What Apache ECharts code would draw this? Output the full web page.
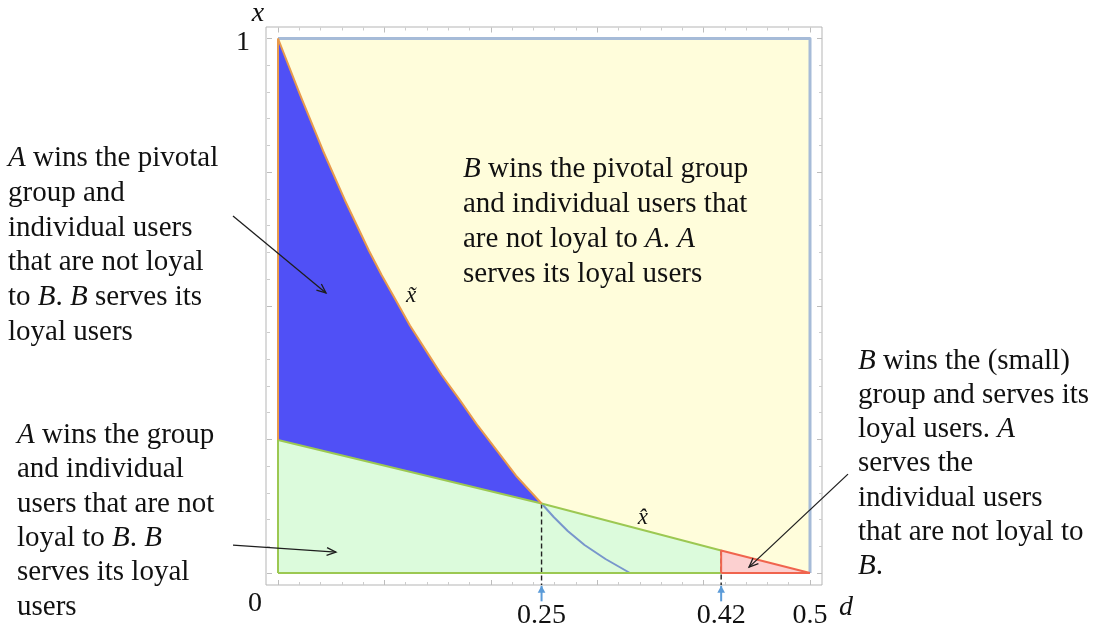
<!DOCTYPE html>
<html lang="en">
<head>
<meta charset="UTF-8" />
<meta name="viewport" content="width=device-width,initial-scale=1" />
<title>Pivotal group · regions in (d, x)</title>
<script src="https://cdn.jsdelivr.net/npm/echarts@6/dist/echarts.min.js"></script>
<style>
  html, body { margin:0; padding:0; width:100%; height:100%; background:#fff; overflow:hidden; }
  #chart { position:absolute; left:0; top:0; width:1094px; height:634px; }
</style>
</head>
<body>
<div id="chart"></div>
<script>
/* ==== values, points are [d, x] ==== */
const dRange = [0, 0.5];
const xRange = [0, 1];
const xTildeCurve = [[0,1],[0.0207,0.895],[0.0423,0.79],[0.063,0.697],[0.0855,0.603],[0.0975,0.557],[0.1109,0.51],
  [0.124,0.463],[0.1391,0.416],[0.154,0.37],[0.1711,0.323],[0.1876,0.276],[0.2058,0.229],[0.2237,0.182],[0.2477,0.13]];
const xTildeTail  = [[0.2477,0.13],[0.2591,0.1048],[0.2723,0.0786],[0.2881,0.0524],[0.3078,0.0262],[0.3308,0]];
const xHatLine    = [[0,0.249],[0.2477,0.13],[0.4165,0.042]];
const redEdge     = [[0.4165,0.042],[0.5,0]];
const cutoffs     = [0.2477, 0.4165];
const tickLabels  = ['0.25', '0.42', '0.5'];
const frameBottom = -0.0225;

// annotation arrows: [tail, tip]
const noteArrows = [
  [[-0.0423,0.668],[0.0451,0.524]],
  [[-0.0423,0.052],[0.0545,0.039]],
  [[0.5357,0.185],[0.4427,0.011]]
];
const cutoffArrows = cutoffs.map(c => [[c,-0.053],[c,-0.024]]);

const curveLabels = [
  {pos:[0.125,0.518], text:'x\u0303'},
  {pos:[0.343,0.103], text:'x\u0302'}
];

const noteTexts = [
  '{i|A} wins the pivotal\ngroup and\nindividual users\nthat are not loyal\nto {i|B}. {i|B} serves its\nloyal users',
  '{i|A} wins the group\nand individual\nusers that are not\nloyal to {i|B}. {i|B}\nserves its loyal\nusers',
  '{i|B} wins the pivotal group\nand individual users that\nare not loyal to {i|A}. {i|A}\nserves its loyal users',
  '{i|B} wins the (small)\ngroup and serves its\nloyal users. {i|A}\nserves the\nindividual users\nthat are not loyal to\n{i|B}.'
];

/* ==== regions ==== */
const yellowRegion = [[dRange[0],xRange[0]],[dRange[1],xRange[0]],[dRange[1],xRange[1]],[dRange[0],xRange[1]]];
const blueRegion   = xTildeCurve.concat([xHatLine[0]]);
const greenRegion  = [[0,0]].concat(xHatLine, [[cutoffs[1],0]]);
const redRegion    = [[cutoffs[1],0]].concat(redEdge);

const SERIF = "'Liberation Serif','Times New Roman',serif";
const INK = '#111';

function regionSeries(pts, fill, z){
  return {
    type:'custom', z, silent:true, clip:false, data:[0],
    renderItem:(params, api)=>({
      type:'polygon',
      shape:{points: pts.map(p=>api.coord(p))},
      style:{fill}
    })
  };
}
function edgeSeries(pts, color, width, z, dash){
  return {
    type:'line', data:pts, symbol:'none', silent:true, clip:false, z,
    lineStyle:{color, width, type: dash || 'solid', join:'round'}
  };
}
function arrowSeries(list, color, width, headLen, headAng, filled, z){
  return {
    type:'custom', z, silent:true, clip:false,
    data:list.map((a,i)=>i),
    renderItem:(params, api)=>{
      const a = list[params.dataIndex];
      const p0 = api.coord(a[0]), p1 = api.coord(a[1]);
      const ang = Math.atan2(p1[1]-p0[1], p1[0]-p0[0]);
      const l = [p1[0]-headLen*Math.cos(ang-headAng), p1[1]-headLen*Math.sin(ang-headAng)];
      const r = [p1[0]-headLen*Math.cos(ang+headAng), p1[1]-headLen*Math.sin(ang+headAng)];
      const kids = [{type:'line', shape:{x1:p0[0],y1:p0[1],x2:p1[0],y2:p1[1]}, style:{stroke:color, lineWidth:width}}];
      if (filled) kids.push({type:'polygon', shape:{points:[l,p1,r]}, style:{fill:color}});
      else kids.push({type:'polyline', shape:{points:[l,p1,r]}, style:{stroke:color, lineWidth:width, fill:null}});
      return {type:'group', children:kids};
    }
  };
}

const tickAxis = (extra)=>Object.assign({
  type:'value', gridIndex:0,
  axisLine:{show:false, onZero:false},
  axisTick:{show:true, inside:true, length:5, lineStyle:{color:'#bdbdbd', width:1}},
  minorTick:{show:true, splitNumber:5, length:3, lineStyle:{color:'#cccccc', width:1}},
  splitLine:{show:false},
  axisLabel:{show:false}
}, extra);

function note(i, left, top, lh){
  return {
    type:'text', left, top, silent:true, z:100,
    style:{text:noteTexts[i], fontFamily:SERIF, fontSize:29, lineHeight:lh, fill:INK,
      rich:{i:{fontFamily:SERIF, fontStyle:'italic', fontSize:29, lineHeight:lh, fill:INK}}}
  };
}

const chart = echarts.init(document.getElementById('chart'));
chart.setOption({
  animation:false,
  backgroundColor:'#fff',
  grid:[
    {left:278, top:38.5, width:532, height:534.5, show:false},
    {left:266, top:27, width:556, height:558, show:true, borderColor:'#b5b5b5', borderWidth:1, backgroundColor:'transparent'}
  ],
  xAxis:[
    tickAxis({position:'bottom', offset:12, min:dRange[0], max:dRange[1], interval:0.1,
      axisLabel:{show:true, customValues:cutoffs.concat([dRange[1]]), margin:17,
        formatter:(v)=>{ const k = cutoffs.concat([dRange[1]]).indexOf(v); return k>=0 ? tickLabels[k] : ''; },
        fontFamily:SERIF, fontSize:28, lineHeight:28, color:INK}}),
    tickAxis({position:'top', offset:11, min:dRange[0], max:dRange[1], interval:0.1}),
    {type:'value', gridIndex:1, show:false, min:0, max:1}
  ],
  yAxis:[
    tickAxis({position:'left', offset:11, min:xRange[0], max:xRange[1], interval:0.25,
      axisLabel:{show:true, customValues:[xRange[1]], margin:17, fontFamily:SERIF, fontSize:28, color:INK,
        formatter:(v)=>'{o|' + v + '}', rich:{o:{fontFamily:SERIF, fontSize:28, color:INK, padding:[8,0,0,0]}}}}),
    tickAxis({position:'right', offset:12, min:xRange[0], max:xRange[1], interval:0.25}),
    {type:'value', gridIndex:1, show:false, min:0, max:1}
  ],
  graphic:[
    {type:'text', x:258, y:14, z:100, silent:true, style:{text:'x', fontFamily:SERIF, fontStyle:'italic', fontSize:28, fill:INK, align:'center', verticalAlign:'middle'}},
    {type:'text', x:255, y:604, z:100, silent:true, style:{text:'0', fontFamily:SERIF, fontSize:28, fill:INK, align:'center', verticalAlign:'middle'}},
    {type:'text', x:846, y:608, z:100, silent:true, style:{text:'d', fontFamily:SERIF, fontStyle:'italic', fontSize:28, fill:INK, align:'center', verticalAlign:'middle'}},
    note(0, 8, 141, 34.8),
    note(1, 17, 418, 34.4),
    note(2, 463, 152, 35),
    note(3, 858, 344, 34.2)
  ],
  series:[
    regionSeries(yellowRegion, '#fffddb', 1),
    regionSeries(greenRegion, '#dcfbdc', 2),
    regionSeries(blueRegion, '#5050f6', 2),
    regionSeries(redRegion, '#fcd0d0', 2),
    // dashed guides at the cut-offs
    edgeSeries([xHatLine[1], [cutoffs[0],frameBottom]], '#222', 1.4, 3, [5,3]),
    edgeSeries([redEdge[0], [cutoffs[1],frameBottom]], '#222', 1.4, 3, [5,3]),
    // boundaries
    edgeSeries(xTildeTail, '#7896cc', 2, 4),
    edgeSeries([[0,xRange[1]],[dRange[1],xRange[1]],[dRange[1],0]], '#a6bbd8', 3, 4),
    edgeSeries([[0,0],[0,xHatLine[0][1]]], '#9cc852', 2, 5),
    edgeSeries([[0,0],[cutoffs[1],0]], '#9cc852', 2, 5),
    edgeSeries(xHatLine, '#9cc852', 2, 5),
    edgeSeries([[0,xHatLine[0][1]],[0,xRange[1]]], '#e89a4c', 2, 5),
    edgeSeries(xTildeCurve, '#e89a4c', 2, 6),
    edgeSeries([[cutoffs[1],0],[cutoffs[1],redEdge[0][1]]].concat(redEdge.slice(1)), '#f0644e', 2, 6),
    edgeSeries([[cutoffs[1],0],[dRange[1],0]], '#f0644e', 2, 6),
    // arrows
    arrowSeries(noteArrows, '#1e1e1e', 1.3, 10, 0.4, false, 8),
    arrowSeries(cutoffArrows, '#5b9bd8', 2, 8, 0.5, true, 8),
    // curve labels
    {
      type:'custom', z:9, silent:true, clip:false,
      data:curveLabels.map((c,i)=>i),
      renderItem:(params, api)=>{
        const c = curveLabels[params.dataIndex];
        const p = api.coord(c.pos);
        return {type:'text', x:p[0], y:p[1], style:{text:c.text, fontFamily:SERIF, fontStyle:'italic', fontSize:23, fill:INK, align:'center', verticalAlign:'middle'}};
      }
    }
  ]
});
window.addEventListener('resize', ()=>chart.resize());
</script>
</body>
</html>
